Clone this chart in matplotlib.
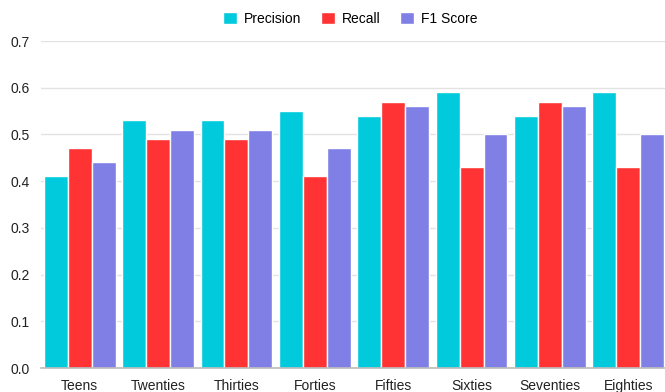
import numpy as np
import matplotlib.pyplot as plt

age_groups = ["Teens", "Twenties", "Thirties", "Forties", "Fifties", "Sixties", "Seventies", "Eighties"]
precision = [0.41, 0.53, 0.53, 0.55, 0.54, 0.59, 0.54, 0.59]
recall = [0.47, 0.49, 0.49, 0.41, 0.57, 0.43, 0.57, 0.43]
f1_score = [0.44, 0.51, 0.51, 0.47, 0.56, 0.50, 0.56, 0.50]

series = [("Precision", precision, "#00CADB"),
          ("Recall", recall, "#FF3333"),
          ("F1 Score", f1_score, "#7F7FE5")]

plt.rcParams['font.family'] = ['Liberation Sans', 'DejaVu Sans']

fig = plt.figure(figsize=(6.65, 3.92), dpi=100)
ax = fig.add_axes([40.5 / 665, 24 / 392, 627 / 665, 327 / 392])

x = np.arange(len(age_groups))
w = 0.305
for i, (name, vals, col) in enumerate(series):
    ax.bar(x + (i - 1) * w, vals, width=w, color=col, edgecolor='white',
           linewidth=1.0, label=name, zorder=3)

ax.set_xlim(-0.5, len(age_groups) - 0.5)
ax.set_ylim(0, 0.7)
ax.set_yticks(np.arange(0, 0.71, 0.1))
ax.set_yticklabels([f"{v:.1f}" for v in np.arange(0, 0.71, 0.1)])
ax.set_xticks(x)
ax.set_xticklabels(age_groups)
ax.tick_params(axis='both', length=0, labelsize=10, colors='#222222')
ax.tick_params(axis='x', pad=8)
ax.tick_params(axis='y', pad=8)
ax.grid(axis='y', color='#E3E3E3', linewidth=1.0, zorder=0)
for s in ['top', 'right', 'left']:
    ax.spines[s].set_visible(False)
ax.spines['bottom'].set_color('#BBBBBB')
ax.spines['bottom'].set_linewidth(1.2)
ax.spines['bottom'].set_zorder(4)

fig.legend(loc='center', bbox_to_anchor=(350 / 665, 1 - 19 / 392), ncol=3,
           frameon=False, fontsize=10, handlelength=1.0, handleheight=1.0,
           handletextpad=0.5, columnspacing=1.4)

fig.savefig("out.png", dpi=100)
